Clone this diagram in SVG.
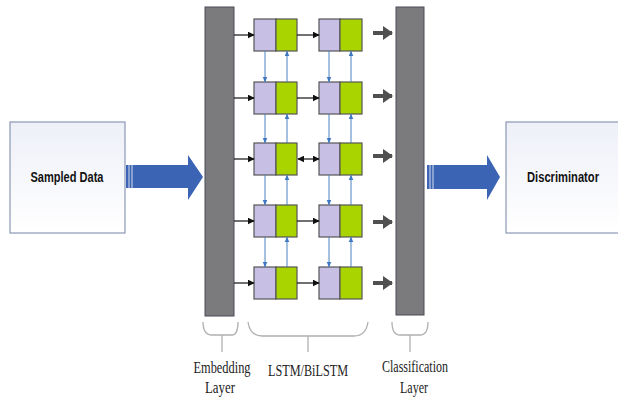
<svg xmlns="http://www.w3.org/2000/svg" width="618" height="397" viewBox="0 0 618 397">
<defs>
<linearGradient id="boxg" x1="0" y1="0" x2="0" y2="1">
<stop offset="0" stop-color="#eef0f8"/>
<stop offset="1" stop-color="#ffffff"/>
</linearGradient>
<marker id="ah" viewBox="0 0 10 10" refX="9" refY="5" markerWidth="7" markerHeight="7" markerUnits="userSpaceOnUse" orient="auto-start-reverse">
<path d="M0,0 L10,5 L0,10 z" fill="#111"/>
</marker>
<marker id="bh" viewBox="0 0 10 10" refX="9" refY="5" markerWidth="6" markerHeight="6" markerUnits="userSpaceOnUse" orient="auto">
<path d="M0,1 L10,5 L0,9 z" fill="#3f78c0"/>
</marker>
<marker id="gh" viewBox="0 0 10 14" refX="9" refY="7" markerWidth="10" markerHeight="14" markerUnits="userSpaceOnUse" orient="auto">
<path d="M0,0 L10,7 L0,14 z" fill="#505050"/>
</marker>
</defs>
<style>
.box{fill:url(#boxg);stroke:#8a98b4;stroke-width:1.2}
.bar{fill:#7b7b7d;stroke:#4a4a58;stroke-width:1}
.pu{fill:#c8bfe4;stroke:#555;stroke-width:1.2}
.gr{fill:#a9d400;stroke:#555;stroke-width:1.2}
.k{stroke:#111;stroke-width:1.2;fill:none;marker-end:url(#ah)}
.v{stroke:#4a82c4;stroke-width:1;fill:none;marker-end:url(#bh)}
.g{stroke:#505050;stroke-width:4;fill:none;marker-end:url(#gh)}
.brace{stroke:#b0b0b0;stroke-width:1.3;fill:none}
.big{fill:#3c64b4}
.lab{font-family:"Liberation Sans",Arial,sans-serif;font-weight:bold;font-size:14px;fill:#111}
.ser{font-family:"Liberation Serif","Times New Roman",serif;font-size:16px;fill:#222}
</style>

<g id="sampled-data">
<rect class="box" x="10" y="122" width="115" height="111"/>
<text class="lab" x="67" y="182" text-anchor="middle" textLength="73" lengthAdjust="spacingAndGlyphs">Sampled Data</text>
</g>

<g id="discriminator">
<rect class="box" x="506" y="122" width="118" height="111"/>
<text class="lab" x="563" y="182" text-anchor="middle" textLength="72" lengthAdjust="spacingAndGlyphs">Discriminator</text>
</g>

<g id="embedding-layer">
<rect class="bar" x="205" y="7" width="29" height="309"/>
</g>

<g id="classification-layer">
<rect class="bar" x="396" y="7" width="28" height="308"/>
</g>

<g id="lstm-cells">
<g id="cell-1-1"><rect class="pu" x="254" y="19" width="22" height="32"/><rect class="gr" x="276" y="19" width="21" height="32"/></g>
<g id="cell-1-2"><rect class="pu" x="319" y="19" width="21" height="32"/><rect class="gr" x="340" y="19" width="22" height="32"/></g>
<g id="cell-2-1"><rect class="pu" x="254" y="82" width="22" height="32"/><rect class="gr" x="276" y="82" width="21" height="32"/></g>
<g id="cell-2-2"><rect class="pu" x="319" y="82" width="21" height="32"/><rect class="gr" x="340" y="82" width="22" height="32"/></g>
<g id="cell-3-1"><rect class="pu" x="254" y="143" width="22" height="32"/><rect class="gr" x="276" y="143" width="21" height="32"/></g>
<g id="cell-3-2"><rect class="pu" x="319" y="143" width="21" height="32"/><rect class="gr" x="340" y="143" width="22" height="32"/></g>
<g id="cell-4-1"><rect class="pu" x="254" y="205" width="22" height="32"/><rect class="gr" x="276" y="205" width="21" height="32"/></g>
<g id="cell-4-2"><rect class="pu" x="319" y="205" width="21" height="32"/><rect class="gr" x="340" y="205" width="22" height="32"/></g>
<g id="cell-5-1"><rect class="pu" x="254" y="267" width="22" height="32"/><rect class="gr" x="276" y="267" width="21" height="32"/></g>
<g id="cell-5-2"><rect class="pu" x="319" y="267" width="21" height="32"/><rect class="gr" x="340" y="267" width="22" height="32"/></g>
</g>

<g id="connectors">
<g class="big">
<path d="M126,165 H188 V155 L203,177 L188,200 V188 H126 z"/>
<path d="M427,165 H487 V155 L500,177 L487,200 V189 H427 z"/>
</g>
<g stroke="#fff" stroke-width="0.8">
<line x1="129" y1="165" x2="129" y2="188"/><line x1="132" y1="165" x2="132" y2="188"/>
<line x1="430" y1="165" x2="430" y2="189"/><line x1="433" y1="165" x2="433" y2="189"/>
</g>
<line class="k" x1="234" y1="35" x2="254" y2="35"/>
<line class="k" x1="234" y1="98" x2="254" y2="98"/>
<line class="k" x1="234" y1="159" x2="254" y2="159"/>
<line class="k" x1="234" y1="221" x2="254" y2="221"/>
<line class="k" x1="234" y1="283" x2="254" y2="283"/>
<line class="k" x1="297" y1="35" x2="319" y2="35"/>
<line class="k" x1="297" y1="98" x2="319" y2="98"/>
<line class="k" x1="298" y1="159" x2="319" y2="159" style="marker-start:url(#ah)"/>
<line class="k" x1="297" y1="221" x2="319" y2="221"/>
<line class="k" x1="297" y1="283" x2="319" y2="283"/>
<line class="v" x1="265" y1="51" x2="265" y2="82"/>
<line class="v" x1="265" y1="114" x2="265" y2="143"/>
<line class="v" x1="265" y1="175" x2="265" y2="205"/>
<line class="v" x1="265" y1="237" x2="265" y2="267"/>
<line class="v" x1="329" y1="51" x2="329" y2="82"/>
<line class="v" x1="329" y1="114" x2="329" y2="143"/>
<line class="v" x1="329" y1="175" x2="329" y2="205"/>
<line class="v" x1="329" y1="237" x2="329" y2="267"/>
<line class="v" x1="287" y1="82" x2="287" y2="51"/>
<line class="v" x1="287" y1="143" x2="287" y2="114"/>
<line class="v" x1="287" y1="205" x2="287" y2="175"/>
<line class="v" x1="287" y1="267" x2="287" y2="237"/>
<line class="v" x1="351" y1="82" x2="351" y2="51"/>
<line class="v" x1="351" y1="143" x2="351" y2="114"/>
<line class="v" x1="351" y1="205" x2="351" y2="175"/>
<line class="v" x1="351" y1="267" x2="351" y2="237"/>
<line class="g" x1="373" y1="33" x2="392" y2="33"/>
<line class="g" x1="373" y1="96" x2="392" y2="96"/>
<line class="g" x1="373" y1="156" x2="392" y2="156"/>
<line class="g" x1="373" y1="222" x2="392" y2="222"/>
<line class="g" x1="373" y1="283" x2="392" y2="283"/>
</g>

<g id="braces">
<path class="brace" d="M203,322 Q203,335 212,335 H232 Q238,335 238,322"/>
<line class="brace" x1="222" y1="335" x2="222" y2="352"/>
<path class="brace" d="M248,322 Q250,336 262,336 H354 Q366,336 368,322"/>
<line class="brace" x1="308" y1="336" x2="308" y2="352"/>
<path class="brace" d="M392,322 Q392,335 400,335 H420 Q428,335 428,322"/>
<line class="brace" x1="410" y1="335" x2="410" y2="352"/>
</g>

<g id="labels">
<text class="ser" x="222" y="373" text-anchor="middle" textLength="57" lengthAdjust="spacingAndGlyphs">Embedding</text>
<text class="ser" x="220" y="393" text-anchor="middle" textLength="30" lengthAdjust="spacingAndGlyphs">Layer</text>
<text class="ser" x="308" y="376" text-anchor="middle" textLength="80" lengthAdjust="spacingAndGlyphs">LSTM/BiLSTM</text>
<text class="ser" x="415" y="372" text-anchor="middle" textLength="66" lengthAdjust="spacingAndGlyphs">Classification</text>
<text class="ser" x="414" y="393" text-anchor="middle" textLength="28" lengthAdjust="spacingAndGlyphs">Layer</text>
</g>
</svg>
